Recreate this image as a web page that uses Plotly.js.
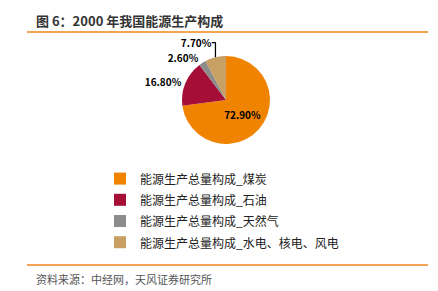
<!DOCTYPE html>
<html><head><meta charset="utf-8">
<script src="https://cdn.plot.ly/plotly-3.0.1.min.js"></script>
<style>html,body{margin:0;padding:0;background:#fff}#chart{width:438px;height:291px}</style>
</head><body><div id="chart"></div>
<script>
const categories = ['能源生产总量构成_煤炭','能源生产总量构成_石油','能源生产总量构成_天然气','能源生产总量构成_水电、核电、风电'];
const values = [72.9, 16.8, 2.6, 7.7];
const colors = ['#F08300','#A50F37','#8C8C8C','#C8A064'];
const titleText = '图 6：2000 年我国能源生产构成';
const sourceText = '资料来源：中经网，天风证券研究所';

const W = 438, H = 291;
const px = x => x / W, py = y => 1 - y / H;
const cx = 226, cy = 100, r = 44;

const trace = {
  type: 'pie',
  labels: categories.map(c => '<span style="font-size:12px">' + c + '</span>'),
  values: values,
  sort: false,
  direction: 'clockwise',
  rotation: 0,
  marker: {colors: colors, line: {width: 0}},
  texttemplate: '%{value:.2f}%',
  textposition: ['inside','outside','outside','outside'],
  textfont: {family: 'Noto Sans CJK SC, sans-serif', size: 10, color: '#000', weight: 'bold'},
  insidetextorientation: 'horizontal',
  hoverinfo: 'none',
  domain: {x: [px(cx - r), px(cx + r)], y: [py(cy + r), py(cy - r)]}
};

const layout = {
  width: W, height: H,
  margin: {l: 0, r: 0, t: 0, b: 0},
  paper_bgcolor: '#fff',
  font: {family: 'Noto Sans CJK SC, sans-serif', color: '#333'},
  showlegend: true,
  legend: {
    x: px(100), xanchor: 'left', y: py(163), yanchor: 'top',
    font: {size: 14, color: '#222'},
    bgcolor: 'rgba(0,0,0,0)'
  },
  annotations: [
    {text: '<b>' + titleText + '</b>', xref: 'paper', yref: 'paper', x: px(34), y: py(21), xanchor: 'left', yanchor: 'middle', showarrow: false, font: {size: 13, color: '#333'}},
    {text: sourceText, xref: 'paper', yref: 'paper', x: px(34), y: py(279), xanchor: 'left', yanchor: 'middle', showarrow: false, font: {size: 11, color: '#555'}}
  ],
  shapes: [
    {type: 'line', xref: 'paper', yref: 'paper', x0: px(27), x1: px(428), y0: py(32), y1: py(32), line: {color: '#F08519', width: 1.5}},
    {type: 'line', xref: 'paper', yref: 'paper', x0: px(27), x1: px(428), y0: py(265), y1: py(265), line: {color: '#F08519', width: 1.5}}
  ]
};

Plotly.newPlot('chart', [trace], layout, {displayModeBar: false, staticPlot: true});
</script></body></html>
